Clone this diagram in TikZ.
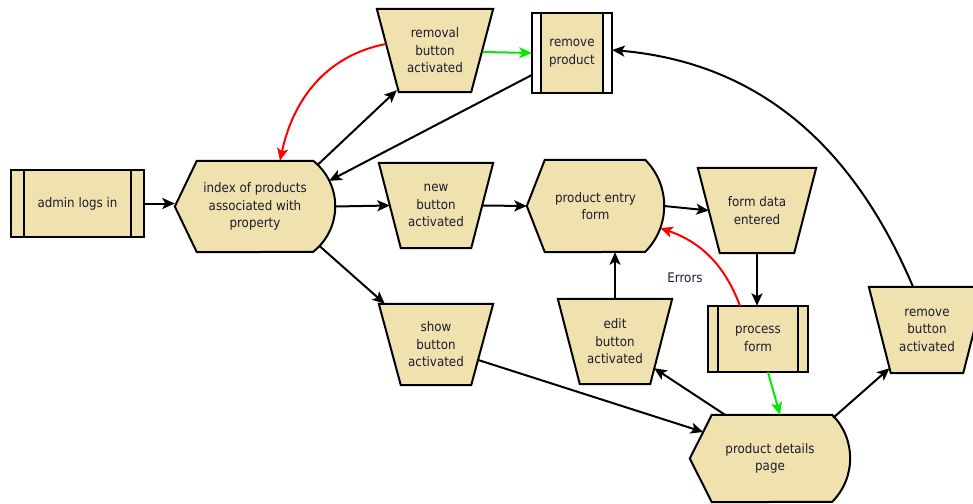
\documentclass[tikz,border=0pt]{standalone}
\usepackage{fontspec}
\setmainfont{DejaVu Sans}[FakeStretch=0.9]
\usetikzlibrary{arrows.meta,backgrounds,calc}

\definecolor{shapefill}{RGB}{239,226,174}
\definecolor{txt}{RGB}{28,28,48}
\definecolor{errred}{RGB}{255,0,0}
\definecolor{okgreen}{RGB}{0,235,0}

\tikzset{
  lbl/.style={draw=none, align=center, text=txt, inner sep=0pt,
    font=\fontsize{13.2}{17.5}\selectfont},
  box/.style 2 args={lbl, minimum width=#1pt, minimum height=#2pt},
  shp/.style={draw=black, fill=shapefill, line width=2pt, line join=miter},
  tip/.style={-{Stealth[length=12.5pt,width=11pt,inset=3pt,#1]}},
  flow/.style={draw=black, line width=2pt, tip={color=black}},
  errflow/.style={flow, draw=errred, tip={color=errred}},
  okflow/.style={flow, draw=okgreen, tip={color=okgreen}},
}

% manual operation: wide top, narrow bottom
\newcommand\trapbg[2]{%
  \path[shp] (#1.north west) -- (#1.north east)
    -- ([xshift=-#2pt]#1.south east) -- ([xshift=#2pt]#1.south west) -- cycle;}
% predefined process: box with two side strips
\newcommand\procbg[3]{%
  \path[shp] (#1.north west) rectangle (#1.south east);
  \path[shp, fill=#3] (#1.north west) rectangle ([xshift=#2pt]#1.south west);
  \path[shp, fill=#3] ([xshift=-#2pt]#1.north east) rectangle (#1.south east);}
% display: pointed left side, round right side
% args: name, tip inset, bulge, arc radius, arc half angle
\newcommand\dispbg[5]{%
  \path[shp] (#1.west) -- ([xshift=#2pt]#1.north west)
    -- ([xshift=-#3pt]#1.north east)
    arc[start angle=#5, end angle=-#5, radius=#4pt]
    -- ([xshift=#2pt]#1.south west) -- cycle;}

\begin{document}
\begin{tikzpicture}[x=1pt,y=-1pt]
\useasboundingbox (0,0) rectangle (973,503);

% labels of the steps
\node[box={133}{67}] (admin) at (77.5,203.5) {admin logs in};
\node[box={160}{91}] (index) at (255,206.5) {index of products\\associated with\\property};
\node[box={116}{83}] (removal) at (435,50.5) {removal\\button\\activated};
\node[box={80}{80}] (removeprod) at (572,53) {remove\\product};
\node[box={114}{85}] (new) at (436,205.5) {new\\button\\activated};
\node[box={114}{81}] (show) at (436,344.5) {show\\button\\activated};
\node[box={137}{92}] (entry) at (595.5,206) {product entry\\form};
\node[box={118}{85}] (formdata) at (757,210.5) {form data\\entered};
\node[box={114}{85}] (edit) at (615,341.5) {edit\\button\\activated};
\node[box={100}{66}] (process) at (758,339) {process\\form};
\node[box={116}{86}] (removebtn) at (927,330) {remove\\button\\activated};
\node[box={160}{87}] (details) at (770,458.5) {product details\\page};
\node[lbl] (errlbl) at (685,278) {Errors};

% outlines of the steps
\begin{scope}[on background layer]
  \procbg{admin}{13}{shapefill}
  \procbg{removeprod}{9}{white}
  \procbg{process}{10}{shapefill}
  \dispbg{index}{22}{22}{58}{51.7}
  \dispbg{entry}{18}{19}{65.2}{44.9}
  \dispbg{details}{22}{18}{61.6}{44.9}
  \trapbg{removal}{22}
  \trapbg{new}{22}
  \trapbg{show}{22}
  \trapbg{formdata}{22}
  \trapbg{edit}{22}
  \trapbg{removebtn}{22}
\end{scope}

% connectors
\draw[flow] (admin.east) -- (admin.east -| index.west);
\draw[flow] (index.east) -- ([xshift=11pt]new.west);
\draw[flow] ([xshift=-11pt]new.east) -- (entry.west);
\draw[flow] (entry.east) -- ([xshift=11pt]formdata.west);
\draw[flow] (formdata.south) -- (formdata.south |- process.north);
\draw[errflow] ([xshift=-18pt]process.north) to[bend right=25] ([shift={(-4pt,-22pt)}]entry.east);
\draw[flow] (edit.north) -- (edit.north |- entry.south);
\draw[flow] ([xshift=-45pt]details.north) -- ([shift={(-18pt,16pt)}]edit.south east);
\draw[okflow] ([xshift=10pt]process.south) -- ([xshift=10pt]details.north);
\draw[flow] ([shift={(-17pt,-3pt)}]details.north east) -- ([shift={(20.7pt,5pt)}]removebtn.south west);
\draw[flow] ([xshift=-14pt]removebtn.north) to[out=113,in=-5] ([yshift=3pt]removeprod.east);
\draw[flow] ([shift={(-15pt,-15.5pt)}]show.east) -- ([shift={(13.4pt,26.5pt)}]details.west);
\draw[flow] ([shift={(-15.5pt,6pt)}]index.south east) -- ([xshift=6pt]show.north west);
\draw[flow] ([shift={(-17.5pt,-4pt)}]index.north east) -- ([shift={(20pt,2pt)}]removal.south west);
\draw[flow] ([yshift=-22pt]removeprod.west) -- ([shift={(-6pt,-20pt)}]index.north east);
\draw[errflow] ([shift={(9pt,6.5pt)}]removal.west) to[out=191,in=78] ([xshift=25pt]index.north);
\draw[okflow] ([shift={(-10.5pt,-1.5pt)}]removal.east) -- (removeprod.west);
\end{tikzpicture}
\end{document}
